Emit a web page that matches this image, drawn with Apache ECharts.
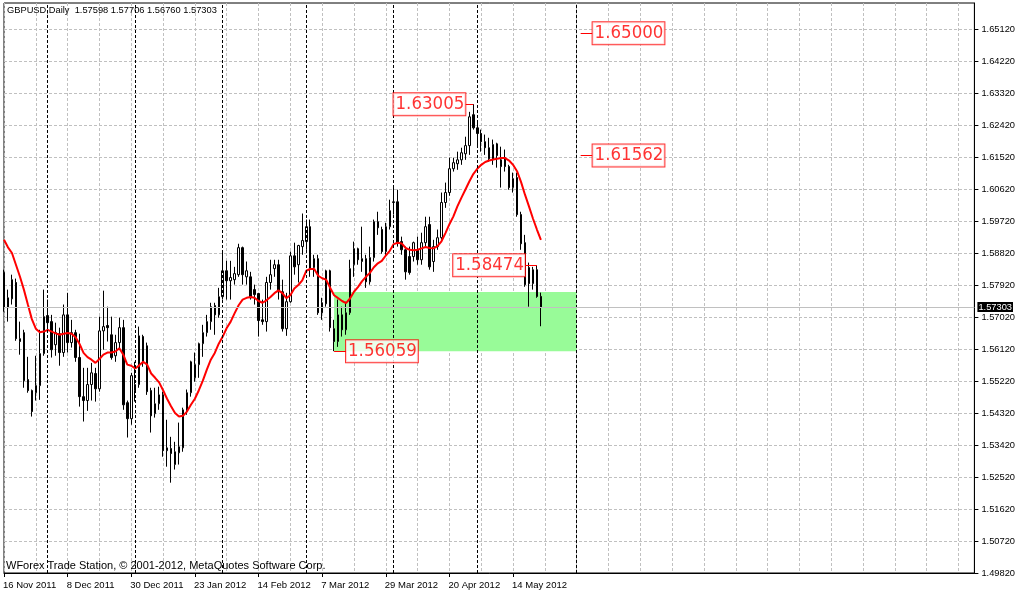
<!DOCTYPE html>
<html>
<head>
<meta charset="utf-8">
<script src="https://cdn.jsdelivr.net/npm/echarts@6/dist/echarts.min.js"></script>
<style>
html,body{margin:0;padding:0;background:#ffffff;}
#chart{width:1018px;height:592px;}
</style>
</head>
<body>
<div id="chart"></div>
<script>
// ---------------- data ----------------
const symbolName = 'GBPUSD,Daily';
const copyrightText = 'WForex Trade Station, \u00A9 2001-2012, MetaQuotes Software Corp.';

// x-axis tick labels (every 16 bars)
const tickLabels = ['16 Nov 2011','8 Dec 2011','30 Dec 2011','23 Jan 2012','14 Feb 2012','7 Mar 2012','29 Mar 2012','20 Apr 2012','14 May 2012'];

// daily OHLC, 16 Nov 2011 .. 23 May 2012
const opens = [1.5827,1.5728,1.5753,1.5799,1.5641,1.5658,1.5526,1.5495,1.5489,1.5509,1.5599,1.5706,1.5689,1.5624,1.5655,1.5602,1.5708,1.5630,1.5658,1.5588,1.5478,1.5467,1.5512,1.5543,1.5500,1.5663,1.5678,1.5652,1.5593,1.5630,1.5672,1.5461,1.5416,1.5495,1.5512,1.5647,1.5621,1.5495,1.5430,1.5458,1.5483,1.5326,1.5332,1.5287,1.5320,1.5334,1.5439,1.5489,1.5531,1.5568,1.5627,1.5658,1.5689,1.5734,1.5708,1.5759,1.5832,1.5804,1.5807,1.5821,1.5897,1.5815,1.5815,1.5779,1.5768,1.5694,1.5689,1.5799,1.5838,1.5849,1.5773,1.5669,1.5745,1.5874,1.5849,1.5900,1.5914,1.5956,1.5841,1.5866,1.5742,1.5739,1.5832,1.5669,1.5633,1.5708,1.5666,1.5714,1.5849,1.5894,1.5858,1.5866,1.5801,1.5869,1.5970,1.5948,1.5886,1.5956,1.6024,1.6026,1.5914,1.5891,1.5872,1.5872,1.5891,1.5863,1.5911,1.5962,1.5858,1.5900,1.5925,1.6024,1.6052,1.6119,1.6133,1.6144,1.6161,1.6184,1.6271,1.6234,1.6218,1.6195,1.6178,1.6144,1.6189,1.6144,1.6150,1.6125,1.6066,1.6094,1.5990,1.5911,1.5841,1.5796,1.5835,1.57598];
const highs = [1.5835,1.5779,1.5821,1.5810,1.5689,1.5666,1.5590,1.5498,1.5593,1.5666,1.5779,1.5751,1.5708,1.5686,1.5672,1.5737,1.5770,1.5694,1.5666,1.5655,1.5559,1.5559,1.5573,1.5559,1.5703,1.5776,1.5731,1.5703,1.5652,1.5700,1.5694,1.5467,1.5545,1.5576,1.5675,1.5652,1.5630,1.5503,1.5503,1.5506,1.5492,1.5413,1.5365,1.5351,1.5405,1.5447,1.5498,1.5579,1.5602,1.5630,1.5680,1.5708,1.5742,1.5742,1.5784,1.5886,1.5860,1.5860,1.5843,1.5908,1.5900,1.5858,1.5829,1.5793,1.5770,1.5751,1.5815,1.5863,1.5863,1.5863,1.5807,1.5770,1.5886,1.5911,1.5905,1.5993,1.5976,1.5976,1.5877,1.5877,1.5756,1.5835,1.5835,1.5694,1.5751,1.5731,1.5745,1.5863,1.5914,1.5897,1.5956,1.5877,1.5900,1.5976,1.5998,1.5956,1.5967,1.6032,1.6066,1.6060,1.5928,1.5900,1.5900,1.5914,1.5928,1.5939,1.5984,1.5984,1.5919,1.5948,1.6052,1.6080,1.6150,1.6150,1.6167,1.6178,1.6209,1.6279,1.63005,1.6249,1.6229,1.6215,1.6206,1.6201,1.6192,1.6181,1.6173,1.6130,1.6108,1.6108,1.5998,1.5933,1.5855,1.5843,1.58474,1.57706];
const lows = [1.5717,1.5689,1.5737,1.5635,1.5596,1.5503,1.5489,1.5422,1.5467,1.5469,1.5593,1.5658,1.5588,1.5593,1.5565,1.5590,1.5602,1.5616,1.5576,1.5450,1.5408,1.5438,1.5467,1.5464,1.5492,1.5610,1.5633,1.5582,1.5576,1.5610,1.5441,1.5363,1.5399,1.5464,1.5503,1.5562,1.5483,1.5377,1.5419,1.5441,1.5309,1.5281,1.5236,1.5273,1.5287,1.5323,1.5427,1.5478,1.5520,1.5531,1.5590,1.5647,1.5666,1.5652,1.5700,1.5751,1.5751,1.5751,1.5793,1.5815,1.5793,1.5793,1.5751,1.5737,1.5647,1.5680,1.5661,1.5779,1.5815,1.5751,1.5661,1.5649,1.5742,1.5821,1.5799,1.5877,1.5891,1.5815,1.5815,1.5708,1.5694,1.5731,1.5661,1.56059,1.5618,1.5647,1.5652,1.5708,1.5815,1.5849,1.5829,1.5784,1.5793,1.5858,1.5933,1.5880,1.5874,1.5948,1.5990,1.5900,1.5877,1.5807,1.5821,1.5858,1.5849,1.5849,1.5897,1.5835,1.5829,1.5891,1.5919,1.6009,1.6043,1.6111,1.6116,1.6130,1.6144,1.6158,1.6229,1.6178,1.6167,1.6158,1.6139,1.6130,1.6122,1.6066,1.6111,1.6060,1.6052,1.5984,1.5891,1.5787,1.5731,1.5779,1.5756,1.56760];
const closes = [1.5728,1.5756,1.5807,1.5641,1.5633,1.5523,1.5495,1.5436,1.5509,1.5599,1.5703,1.5686,1.5610,1.5658,1.5602,1.5708,1.5630,1.5658,1.5588,1.5478,1.5467,1.5512,1.5545,1.5500,1.5663,1.5675,1.5672,1.5588,1.5630,1.5672,1.5455,1.5416,1.5537,1.5512,1.5649,1.5573,1.5492,1.5424,1.5458,1.5483,1.5326,1.5334,1.5318,1.5323,1.5337,1.5441,1.5489,1.5576,1.5568,1.5627,1.5658,1.5689,1.5731,1.5708,1.5759,1.5832,1.5804,1.5813,1.5824,1.5897,1.5821,1.5832,1.5756,1.5765,1.5692,1.5689,1.5799,1.5821,1.5849,1.5773,1.5669,1.5745,1.5874,1.5843,1.5903,1.5917,1.5956,1.5838,1.5866,1.5714,1.5714,1.5832,1.5672,1.5633,1.5708,1.5666,1.5714,1.5838,1.5894,1.5863,1.5866,1.5801,1.5869,1.5970,1.5953,1.5886,1.5956,1.6001,1.6026,1.5911,1.5891,1.5829,1.5827,1.5911,1.5863,1.5911,1.5956,1.5843,1.5900,1.5925,1.6024,1.6052,1.6119,1.6136,1.6144,1.6164,1.6184,1.6265,1.6234,1.6218,1.6195,1.6178,1.6147,1.6187,1.6156,1.6125,1.6125,1.6066,1.6091,1.5990,1.5908,1.5793,1.5796,1.5835,1.57598,1.57303];

// red moving-average line, one value per bar
const maValues = [1.5919,1.5898,1.5882,1.5849,1.5816,1.5779,1.5737,1.5696,1.5669,1.5659,1.5661,1.5666,1.5661,1.5656,1.5652,1.5655,1.5657,1.5655,1.5645,1.5626,1.5601,1.5589,1.5582,1.5573,1.5584,1.5596,1.5602,1.5602,1.5605,1.5614,1.5596,1.5568,1.5565,1.5557,1.5566,1.5576,1.5568,1.5543,1.5531,1.5518,1.5496,1.5472,1.5451,1.5432,1.5422,1.5424,1.5436,1.5455,1.5472,1.5496,1.5523,1.5554,1.5582,1.5601,1.5627,1.5647,1.5671,1.5689,1.5713,1.5735,1.5751,1.5756,1.5758,1.5756,1.5747,1.5742,1.5749,1.5758,1.5769,1.5777,1.5769,1.5755,1.5763,1.5782,1.5792,1.5805,1.5832,1.5837,1.5837,1.5818,1.5811,1.5807,1.5784,1.5763,1.5755,1.5747,1.5741,1.5754,1.5773,1.5786,1.5802,1.5815,1.5826,1.5842,1.5853,1.5860,1.5875,1.5888,1.5907,1.5911,1.5909,1.5896,1.5891,1.5890,1.5891,1.5895,1.5899,1.5896,1.5895,1.5901,1.5915,1.5938,1.5963,1.5985,1.6013,1.6037,1.6060,1.6083,1.6104,1.6119,1.6130,1.6138,1.6142,1.6145,1.6147,1.6149,1.6149,1.6142,1.6130,1.6112,1.6082,1.6046,1.6013,1.5979,1.5948,1.5919];

// price text labels (red boxes) with the bar they are attached to
const priceLabels = [1.65000, 1.61562, 1.63005, 1.58474, 1.56059];
const labelBar    = [148, 148, 116, 131, 86];
const labelSide   = ['right', 'right', 'left', 'left', 'right'];
const connectorBar = [145, 145, 118, 134, 83];

// green rectangle
const zoneTop = 1.5772;
const zoneBottom = 1.56059;
const zoneFromBar = 83;
const zoneToBar = 144;

// monthly separators (bar indices)
const separatorBars = [11, 33, 55, 76, 98, 119, 144];

// y axis ticks
const yTickStart = 1.4982;
const yTickStep = 0.009;
const yTop = 1.65851;

// ---------------- build ----------------
const FONT = '"Liberation Sans", Arial, sans-serif';
const LABEL_FONT = '"DejaVu Sans Condensed", "DejaVu Sans", sans-serif';
const MONTHS = ['Jan','Feb','Mar','Apr','May','Jun','Jul','Aug','Sep','Oct','Nov','Dec'];
const TOTAL_SLOTS = 245;
const categories = [];
const d = new Date(2011, 10, 16);
while (categories.length < TOTAL_SLOTS) {
  const wd = d.getDay();
  if (wd !== 0 && wd !== 6) categories.push(d.getDate() + ' ' + MONTHS[d.getMonth()] + ' ' + d.getFullYear());
  d.setDate(d.getDate() + 1);
}
const showTick = (i, v) => tickLabels.indexOf(categories[i]) >= 0;

const candleData = opens.map((o, i) => [o, closes[i], lows[i], highs[i]]);
const last = opens.length - 1;
const lastClose = closes[last];
const header = symbolName + '  ' + [opens[last], highs[last], lows[last], closes[last]].map(v => v.toFixed(5)).join(' ');

const RED_LINE = {color: '#ff0000', type: 'solid', width: 1};
const markLineData = [];
separatorBars.forEach(b => markLineData.push({
  xAxis: b,
  lineStyle: {color: '#000000', type: [3, 2], width: 1}
}));
markLineData.push({
  yAxis: lastClose,
  lineStyle: {color: '#c0c0c0', type: 'solid', width: 1},
  label: {
    show: true, position: 'end', distance: 3,
    formatter: lastClose.toFixed(5),
    color: '#ffffff', backgroundColor: '#000000',
    fontSize: 9.3, fontFamily: FONT, padding: [1, 1, 0, 1]
  }
});
priceLabels.forEach((p, k) => markLineData.push([
  {coord: [connectorBar[k], p], lineStyle: RED_LINE},
  {coord: [labelBar[k], p], lineStyle: RED_LINE}
]));

const chart = echarts.init(document.getElementById('chart'), null, {renderer: 'canvas'});
chart.setOption({
  animation: false,
  backgroundColor: '#ffffff',
  title: [
    {text: header, left: 7, top: 6, padding: 0,
     textStyle: {fontSize: 9.3, fontWeight: 'normal', color: '#000000', fontFamily: FONT}},
    {text: copyrightText, left: 6, top: 560, padding: 0,
     textStyle: {fontSize: 11, fontWeight: 'normal', color: '#000000', fontFamily: FONT}}
  ],
  grid: {left: 3, right: 39, top: 3, bottom: 19, show: true, borderColor: '#000000', borderWidth: 1, backgroundColor: '#ffffff'},
  xAxis: {
    type: 'category',
    data: categories,
    boundaryGap: false,
    axisLine: {show: true, lineStyle: {color: '#000000', width: 1}},
    axisTick: {show: true, interval: showTick, length: 4, lineStyle: {color: '#000000'}},
    axisLabel: {show: true, interval: showTick, align: 'left', margin: 7, fontSize: 9.5, color: '#000000', fontFamily: FONT, padding: [0, 0, 0, -1]},
    splitLine: {show: true, interval: (i) => i % 8 === 0, lineStyle: {color: '#c0c0c0', type: [3, 2], width: 1}}
  },
  yAxis: {
    type: 'value',
    position: 'right',
    min: yTickStart,
    max: yTop,
    interval: yTickStep,
    scale: true,
    axisLine: {show: true, lineStyle: {color: '#000000', width: 1}},
    axisTick: {show: true, length: 4, lineStyle: {color: '#000000'}},
    axisLabel: {show: true, showMaxLabel: false, margin: 7, fontSize: 9.3, color: '#000000', fontFamily: FONT,
                formatter: v => v.toFixed(5)},
    splitLine: {show: true, showMaxLine: false, lineStyle: {color: '#c0c0c0', type: [3, 2], width: 1}}
  },
  series: [
    {
      name: 'candles',
      type: 'candlestick',
      data: candleData,
      barWidth: 2,
      z: 3,
      itemStyle: {color: '#ffffff', color0: '#000000', borderColor: '#000000', borderColor0: '#000000', borderWidth: 1},
      markArea: {
        silent: true,
        itemStyle: {color: '#98fb98', opacity: 1},
        data: [[{xAxis: zoneFromBar, yAxis: zoneTop}, {xAxis: zoneToBar, yAxis: zoneBottom}]]
      }
    },
    {
      name: 'MA',
      type: 'line',
      data: maValues,
      symbol: 'none',
      z: 4,
      lineStyle: {color: '#ff0000', width: 2},
      markLine: {
        silent: true,
        precision: 5,
        symbol: ['none', 'none'],
        lineStyle: RED_LINE,
        label: {show: false},
        emphasis: {disabled: true},
        data: markLineData
      }
    },
    {
      name: 'labels',
      type: 'scatter',
      symbolSize: 0,
      z: 10,
      data: priceLabels.map((p, k) => ({value: [labelBar[k], p], label: {position: labelSide[k]}})),
      label: {
        show: true,
        distance: 0,
        formatter: (params) => params.value[1].toFixed(5),
        color: '#ff0000',
        fontSize: 18.5,
        lineHeight: 21,
        fontFamily: LABEL_FONT,
        backgroundColor: '#ffffff',
        borderColor: '#ff0000',
        borderWidth: 1,
        padding: [1, 1, 0, 2]
      }
    }
  ]
});
</script>
</body>
</html>
